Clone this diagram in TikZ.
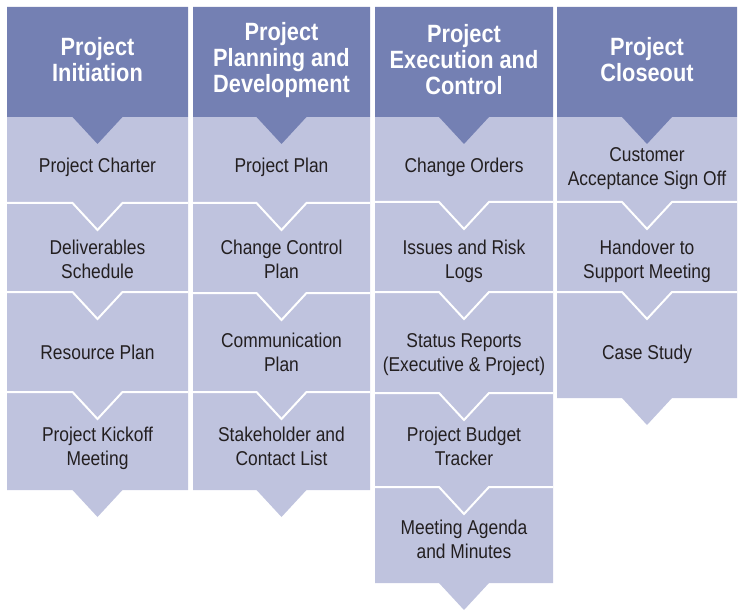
\documentclass[tikz,border=0pt]{standalone}
\usepackage{fontspec}
\setmainfont{Liberation Sans}[FakeStretch=0.87]
\definecolor{hdr}{RGB}{116,128,179}
\definecolor{bdy}{RGB}{191,195,222}
\definecolor{txt}{RGB}{35,31,32}
\newcommand\arrowbox[5]{% left, right, top, bottom, colour
  \fill[#5] (#1,#3) -- (#2,#3) -- (#2,#4) -- ({(#1+#2)/2+25},#4) -- ({(#1+#2)/2},{#4+27}) -- ({(#1+#2)/2-25},#4) -- (#1,#4) -- cycle;}
\newcommand\vsep[3]{% left, right, y
  \draw[sepline] (#1,#3) -- ({(#1+#2)/2-25},#3) -- ({(#1+#2)/2},{#3+27}) -- ({(#1+#2)/2+25},#3) -- (#2,#3);}
\begin{document}
\begin{tikzpicture}[x=1pt,y=-1pt,
  hdrtext/.style={text=white,font=\fontsize{25}{26}\selectfont\bfseries,align=center,inner sep=0pt},
  bodytext/.style={text=txt,font=\fontsize{20}{24}\selectfont,align=center,inner sep=0pt},
  sepline/.style={draw=white,line width=2pt}]
\useasboundingbox (0,0) rectangle (741,612);
% ---------- Column 1 ----------
\arrowbox{7}{188}{392}{490}{bdy}
\arrowbox{7}{188}{292}{392}{bdy}\vsep{7}{188}{392}
\arrowbox{7}{188}{203}{292}{bdy}\vsep{7}{188}{292}
\arrowbox{7}{188}{117}{203}{bdy}\vsep{7}{188}{203}
\arrowbox{7}{188}{7}{117}{hdr}
% ---------- Column 2 ----------
\arrowbox{193}{370}{392}{490}{bdy}
\arrowbox{193}{370}{293}{392}{bdy}\vsep{193}{370}{392}
\arrowbox{193}{370}{203}{293}{bdy}\vsep{193}{370}{293}
\arrowbox{193}{370}{117}{203}{bdy}\vsep{193}{370}{203}
\arrowbox{193}{370}{7}{117}{hdr}
% ---------- Column 3 ----------
\arrowbox{375}{553}{487}{583}{bdy}
\arrowbox{375}{553}{393}{487}{bdy}\vsep{375}{553}{487}
\arrowbox{375}{553}{292}{393}{bdy}\vsep{375}{553}{393}
\arrowbox{375}{553}{202}{292}{bdy}\vsep{375}{553}{292}
\arrowbox{375}{553}{117}{202}{bdy}\vsep{375}{553}{202}
\arrowbox{375}{553}{7}{117}{hdr}
% ---------- Column 4 ----------
\arrowbox{557}{737}{292}{398}{bdy}
\arrowbox{557}{737}{202}{292}{bdy}\vsep{557}{737}{292}
\arrowbox{557}{737}{117}{202}{bdy}\vsep{557}{737}{202}
\arrowbox{557}{737}{7}{117}{hdr}
% ---------- Texts ----------
\node[hdrtext] (h1) at (97.5,60) {Project\\Initiation};
\node[hdrtext] (h2) at (281.5,60) {Project\\Planning and\\Development};
\node[hdrtext] (h3) at (464,60) {Project\\Execution and\\Control};
\node[hdrtext] (h4) at (647,60) {Project\\Closeout};
\node[bodytext] (a1) at (97.5,167) {Project Charter};
\node[bodytext] (a2) at (97.5,259) {Deliverables\\Schedule};
\node[bodytext] (a3) at (97.5,352) {Resource Plan};
\node[bodytext] (a4) at (97.5,448) {Project Kickoff\\Meeting};
\node[bodytext] (b1) at (281.5,167) {Project Plan};
\node[bodytext] (b2) at (281.5,259) {Change Control\\Plan};
\node[bodytext] (b3) at (281.5,352) {Communication\\Plan};
\node[bodytext] (b4) at (281.5,446) {Stakeholder and\\Contact List};
\node[bodytext] (c1) at (464,167) {Change Orders};
\node[bodytext] (c2) at (464,261) {Issues and Risk\\Logs};
\node[bodytext] (c3) at (464,355) {Status Reports\\(Executive \& Project)};
\node[bodytext] (c4) at (464,446) {Project Budget\\Tracker};
\node[bodytext] (c5) at (464,539) {Meeting Agenda\\and Minutes};
\node[bodytext] (d1) at (647,169) {Customer\\Acceptance Sign Off};
\node[bodytext] (d2) at (647,261) {Handover to\\Support Meeting};
\node[bodytext] (d3) at (647,354) {Case Study};
\end{tikzpicture}
\end{document}
